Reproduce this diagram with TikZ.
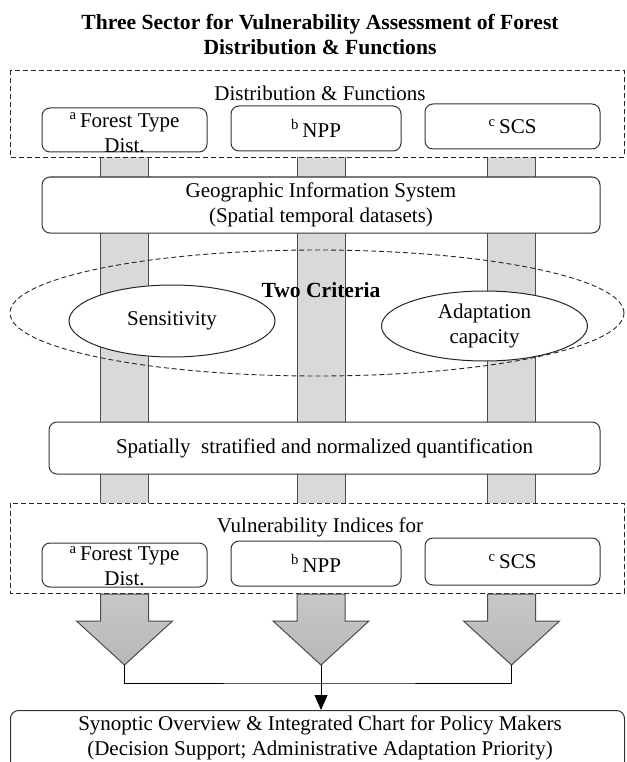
\documentclass[tikz,border=0pt]{standalone}
\usepackage{fontspec}
\setmainfont{Liberation Serif}
\usetikzlibrary{shapes.geometric,arrows.meta}
\begin{document}
\begin{tikzpicture}[x=1pt,y=-1pt,
  box/.style={draw=black!80, line width=1pt, rounded corners=8pt, fill=white, rectangle, inner sep=0pt, align=center, font=\fontsize{21}{25}\selectfont},
  dashbox/.style={draw=black!85, dash pattern=on 5pt off 3pt, line width=0.9pt, fill=white},
  barstyle/.style={draw=black!70, line width=1pt, fill=black!15},
  bigarrow/.style={draw=black!70, line width=1pt, top color=black!22, bottom color=black!28},
  txt/.style={inner sep=0pt, align=center, font=\fontsize{21}{25}\selectfont},
  ell/.style={draw=black!85, line width=1pt, ellipse, fill=white, inner sep=0pt, align=center, font=\fontsize{21}{25}\selectfont},
  conn/.style={draw=black, line width=1pt}
]
\clip (0,0) rectangle (626,762);
\fill[white] (0,0) rectangle (626,762);

% title
\node[txt, font=\fontsize{21.6}{25}\selectfont\bfseries] (title) at (320,35)
  {Three Sector for Vulnerability Assessment of Forest\\Distribution \& Functions};

% vertical bars
\draw[barstyle] (100.5,140) rectangle (148.5,504);
\draw[barstyle] (297,140) rectangle (345,504);
\draw[barstyle] (487.5,140) rectangle (535.5,504);

% top dashed box
\draw[dashbox] (10,70) rectangle (624,157);
\node[txt] (dflabel) at (320,93) {Distribution \& Functions};
\node[box, minimum width=165, minimum height=44] (ta) at (124.5,130) {};
\node[txt] (tatext) at (124.5,132.5) {\textsuperscript{a}\,Forest Type\\Dist.};
\node[box, minimum width=170, minimum height=45] (tb) at (316,128.5) {\textsuperscript{b}\,NPP};
\node[box, minimum width=175, minimum height=45] (tc) at (512.5,126.5) {\textsuperscript{c}\,SCS};

% GIS box
\node[box, minimum width=558, minimum height=56] (gis) at (321,205)
  {Geographic Information System\\(Spatial temporal datasets)};

% two criteria
\node[draw=black!85, dash pattern=on 5pt off 3pt, line width=0.9pt, ellipse,
      minimum width=614, minimum height=126, inner sep=0pt] (crit) at (317,313) {};
\node[txt, font=\fontsize{21.6}{25}\selectfont\bfseries] (crittext) at (321,290) {Two Criteria};
\node[ell, minimum width=206, minimum height=72] (sens) at (172,321) {Sensitivity};
\node[ell, minimum width=206, minimum height=70] (adapt) at (484.5,326) {Adaptation\\capacity};

% quantification box
\node[box, minimum width=551, minimum height=52] (quant) at (324.5,448)
  {Spatially\ \ stratified and normalized quantification};

% bottom dashed box
\draw[dashbox] (10,503) rectangle (624,593);
\node[txt] (vilabel) at (320,527) {Vulnerability Indices for};
\node[box, minimum width=165, minimum height=44] (va) at (124.5,565) {};
\node[txt] (vatext) at (124.5,566) {\textsuperscript{a}\,Forest Type\\Dist.};
\node[box, minimum width=170, minimum height=45] (vb) at (316,563.5) {\textsuperscript{b}\,NPP};
\node[box, minimum width=175, minimum height=47] (vc) at (512.5,561.5) {\textsuperscript{c}\,SCS};

% big arrows
\draw[bigarrow] (100.5,594) -- (148.5,594) -- (148.5,621) -- (172.5,621) -- (124.5,665) -- (76.5,621) -- (100.5,621) -- cycle;
\draw[bigarrow] (297,594) -- (345,594) -- (345,621) -- (369,621) -- (321,665) -- (273,621) -- (297,621) -- cycle;
\draw[bigarrow] (487.5,594) -- (535.5,594) -- (535.5,621) -- (559.5,621) -- (511.5,665) -- (463.5,621) -- (487.5,621) -- cycle;
\coordinate (t1) at (124.5,665);
\coordinate (t2) at (321,665);
\coordinate (t3) at (511.5,665);
\coordinate (mid) at (321,683);

% synoptic box
\node[box, minimum width=614, minimum height=90, anchor=north west] (syn) at (10,710) {};
\node[txt] (syntext) at (320,737.5)
  {Synoptic Overview \& Integrated Chart for Policy Makers\\(Decision Support; Administrative Adaptation Priority)};

% connectors
\draw[conn] (t1) |- (mid) -| (t3);
\draw[conn, -{Triangle[length=15pt,width=13pt]}] (t2) -- (t2 |- syn.north);
\end{tikzpicture}
\end{document}
